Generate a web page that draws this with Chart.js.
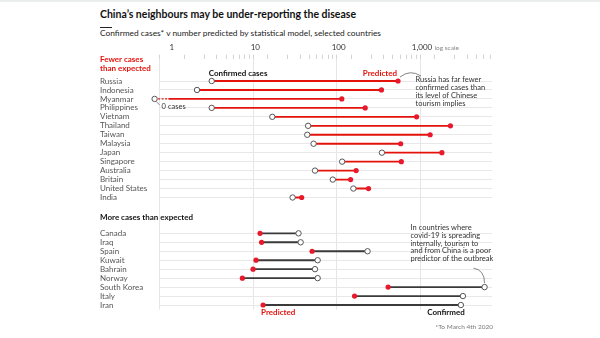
<!DOCTYPE html>
<html>
<head>
<meta charset="utf-8">
<script src="https://cdn.jsdelivr.net/npm/chart.js@4.4.1/dist/chart.umd.min.js"></script>
<style>
  body { margin: 0; background: #fff; font-family: Lato, sans-serif; }
  #wrap { position: relative; width: 600px; height: 338px; overflow: hidden; }
  #wrap canvas { position: absolute; left: 0; top: 0; }
  .topbar { position: absolute; left: 0; top: 0; width: 600px; height: 2px; background: #e9edee; }
  .title { position: absolute; left: 100px; top: 8px; font-weight: bold; font-size: 10.5px; color: #111; white-space: nowrap; }
  .rule { position: absolute; left: 100px; top: 27px; width: 12px; height: 1px; background: #222; }
  .sub { position: absolute; left: 100px; top: 28px; font-size: 8.4px; color: #222; white-space: nowrap; }
  .foot { position: absolute; right: 107px; top: 323px; font-size: 6.5px; color: #777; white-space: nowrap; }
</style>
</head>
<body>
<div id="wrap">
  <div class="topbar"></div>
  <div class="title">China’s neighbours may be under-reporting the disease</div>
  <div class="rule"></div>
  <div class="sub">Confirmed cases* v number predicted by statistical model, selected countries</div>
  <canvas id="chart" width="600" height="338"></canvas>
  <div class="foot">*To March 4th 2020</div>
</div>
<script>
// fewer cases than expected
var fewer = ['Russia', 'Indonesia', 'Myanmar', 'Philippines', 'Vietnam', 'Thailand', 'Taiwan',
  'Malaysia', 'Japan', 'Singapore', 'Australia', 'Britain', 'United States', 'India'];
var fewerConfirmed = [3, 2, 0, 3, 16, 43, 42, 50, 330, 110, 52, 85, 150, 28];
var fewerPredicted = [515, 326, 109, 208, 860, 2190, 1250, 554, 1730, 564, 162, 139, 228, 36];

// more cases than expected
var more = ['Canada', 'Iraq', 'Spain', 'Kuwait', 'Bahrain', 'Norway', 'South Korea', 'Italy', 'Iran'];
var moreConfirmed = [33, 35, 222, 56, 52, 56, 5620, 3090, 2920];
var morePredicted = [11.4, 11.9, 48, 10.2, 9.4, 7, 392, 155, 12.4];

var xTickValues = [1, 10, 100, 1000];
var xTickLabels = ['1', '10', '100', '1,000'];

var RED = '#e3120b';
var DARK = '#3a3a3a';
var ZERO_X = 0.62;   // where "0 cases" sits on the log axis

// rows, with blank slots for the section headings
var rows = ['', ''].concat(fewer, ['', '', ''], more);

var names = fewer.concat(more);
var confirmed = fewerConfirmed.concat(moreConfirmed);
var predicted = fewerPredicted.concat(morePredicted);

var segments = names.map(function (n, i) {
  var lo = Math.min(confirmed[i], predicted[i]);
  var hi = Math.max(confirmed[i], predicted[i]);
  if (confirmed[i] === 0) lo = 0.92;
  return { y: n, x: [lo, hi] };
});
var segColors = names.map(function (n, i) { return i < fewer.length ? RED : DARK; });

var notes = {
  id: 'notes',
  afterDraw: function (chart) {
    var c = chart.ctx, xs = chart.scales.x, ys = chart.scales.y;
    function X(v) { return xs.getPixelForValue(v); }
    function Y(n) { return ys.getPixelForValue(typeof n === 'number' ? n : rows.indexOf(n)); }
    function txt(s, x, y, font, color, align) {
      c.font = font; c.fillStyle = color; c.textAlign = align || 'left'; c.textBaseline = 'middle';
      c.fillText(s, x, y);
    }
    c.save();
    var B8 = 'bold 8px Lato', R75 = '7.5px Lato';
    txt('Fewer cases', 100, Y(0) - 4, B8, RED);
    txt('than expected', 100, Y(1) - 4, B8, RED);
    txt('More cases than expected', 100, Y(17) + 2, B8, '#111');
    txt('Confirmed cases', X(3) - 3, Y(1) + 1, B8, '#111');
    txt('Predicted', X(515) - 1, Y(1) + 1, B8, RED, 'right');
    txt('log scale', X(1000) + 12.5, xs.bottom - 11, '6.5px Lato', '#888');

    var r = ['Russia has far fewer', 'confirmed cases than', 'its level of Chinese', 'tourism implies'];
    r.forEach(function (s, k) { txt(s, X(515) + 17.5, Y('Russia') - 1 + k * 7.7, R75, '#333'); });
    var m = ['In countries where', 'covid-19 is spreading', 'internally, tourism to',
      'and from China is a poor', 'predictor of the outbreak'];
    m.forEach(function (s, k) { txt(s, 410.5, Y('Canada') - 6 + k * 7.9, R75, '#333'); });

    c.strokeStyle = '#666'; c.lineWidth = 0.8;
    // Russia callout
    var px = X(515), py = Y('Russia');
    c.beginPath(); c.moveTo(px + 2, py - 4); c.quadraticCurveTo(px + 12, py - 12, px + 23, py - 5); c.stroke();
    // South Korea callout
    var kx = X(5620), ky = Y('South Korea');
    c.beginPath(); c.moveTo(kx - 11, ky - 19); c.quadraticCurveTo(kx, ky - 17, kx, ky - 4); c.stroke();
    // Myanmar zero
    var zx = X(ZERO_X), zy = Y('Myanmar');
    c.beginPath(); c.moveTo(zx + 1.5, zy + 2.5); c.lineTo(zx + 5, zy + 6); c.stroke();
    txt('0 cases', zx + 7, zy + 7.5, R75, '#333');

    txt('Predicted', X(12.4) - 2, Y('Iran') + 7.5, B8, RED);
    txt('Confirmed', X(2920) + 4, Y('Iran') + 7.5, B8, '#111', 'right');
    c.restore();
  }
};

new Chart(document.getElementById('chart'), {
  type: 'bar',
  data: {
    labels: rows,
    datasets: [{
      type: 'scatter',
      data: names.map(function (n, i) { return { x: confirmed[i] || ZERO_X, y: n }; }),
      pointRadius: 2.7,
      pointBackgroundColor: '#fff',
      pointBorderColor: '#555',
      pointBorderWidth: 1,
      clip: false,
      order: 0
    }, {
      type: 'scatter',
      data: names.map(function (n, i) { return { x: predicted[i], y: n }; }),
      pointRadius: 2.6,
      pointBackgroundColor: '#e8192c',
      pointBorderWidth: 0,
      clip: false,
      order: 1
    }, {
      type: 'line',
      data: [{ x: ZERO_X, y: 'Myanmar' }, { x: 0.92, y: 'Myanmar' }],
      borderColor: RED,
      borderWidth: 1.2,
      borderDash: [2, 1.5],
      pointRadius: 0,
      clip: false,
      order: 2
    }, {
      type: 'bar',
      indexAxis: 'y',
      data: segments,
      backgroundColor: segColors,
      barThickness: 1.2,
      order: 3
    }]
  },
  options: {
    responsive: false,
    animation: false,
    devicePixelRatio: 1,
    layout: { padding: { left: 100, right: 108, top: 38.6, bottom: 28.5 } },
    plugins: { legend: { display: false }, tooltip: { enabled: false } },
    scales: {
      x: {
        type: 'logarithmic',
        position: 'top',
        min: 0.724,
        max: 6900,
        afterBuildTicks: function (scale) {
          var t = [];
          [1, 10, 100, 1000].forEach(function (d) {
            for (var k = 1; k <= 9; k++) if (d * k <= 6000) t.push({ value: d * k });
          });
          scale.ticks = t;
        },
        afterFit: function (scale) { scale.height = 20; },
        border: { display: false },
        grid: {
          color: function (ctx) { return ctx.tick && xTickValues.indexOf(ctx.tick.value) >= 0 ? '#e6e6e6' : 'rgba(0,0,0,0)'; },
          tickColor: '#d4d4d4',
          tickLength: 4
        },
        ticks: {
          autoSkip: false,
          maxRotation: 0,
          padding: 2,
          color: '#333',
          font: { family: 'Lato', size: 8 },
          callback: function (v) {
            var i = xTickValues.indexOf(v);
            return i >= 0 ? xTickLabels[i] : '';
          }
        }
      },
      y: {
        type: 'category',
        labels: rows,
        offset: true,
        afterFit: function (scale) { scale.width = 59; },
        border: { display: false },
        grid: {
          offset: false,
          drawTicks: false,
          color: function (ctx) { return rows[ctx.index] ? '#e8e8e8' : 'rgba(0,0,0,0)'; }
        },
        ticks: {
          autoSkip: false,
          crossAlign: 'far',
          padding: 0,
          color: '#555',
          font: { family: 'Lato', size: 8 }
        }
      }
    }
  },
  plugins: [notes]
});
</script>
</body>
</html>
